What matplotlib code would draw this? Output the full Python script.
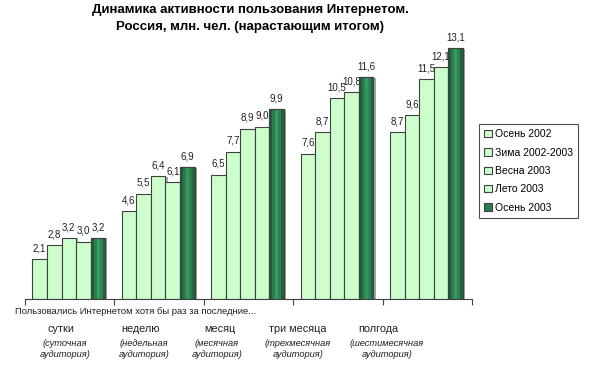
import numpy as np
import matplotlib
matplotlib.use('Agg')
import matplotlib.pyplot as plt
import matplotlib.patheffects as pe
from matplotlib.patches import Patch

plt.rcParams['font.family'] = ['Liberation Sans', 'DejaVu Sans']

# data, mln people
periods = ["сутки", "неделю", "месяц", "три месяца", "полгода"]
audience = ["(суточная\nаудитория)", "(недельная\nаудитория)", "(месячная\nаудитория)",
            "(трехмесячная\nаудитория)", "(шестимесячная\nаудитория)"]
seasons = ["Осень 2002", "Зима 2002-2003", "Весна 2003", "Лето 2003", "Осень 2003"]
autumn_2002 = [2.1, 4.6, 6.5, 7.6, 8.7]
winter_2003 = [2.8, 5.5, 7.7, 8.7, 9.6]
spring_2003 = [3.2, 6.4, 8.9, 10.5, 11.5]
summer_2003 = [3.0, 6.1, 9.0, 10.8, 12.1]
autumn_2003 = [3.2, 6.9, 9.9, 11.6, 13.1]
series = [autumn_2002, winter_2003, spring_2003, summer_2003, autumn_2003]

LIGHT = '#CCFFCC'
DARK = '#2E7D4F'
EDGE = '#404040'

W, H = 590, 367
fig = plt.figure(figsize=(W / 100, H / 100), dpi=100)
ax = fig.add_axes([25 / W, 68 / H, 447 / W, 268 / H])

x = np.arange(len(periods)) + 0.5
width = 0.163
shadow = [pe.SimplePatchShadow(offset=(1.5, -0.5), shadow_rgbFace='#808080', alpha=0.7), pe.Normal()]
green_cmap = matplotlib.colors.LinearSegmentedColormap.from_list('g', ['#1B5E38', '#3A9A62'])

for j, vals in enumerate(series):
    pos = x + (j - 2) * width - 0.01
    last = j == len(series) - 1
    bars = ax.bar(pos, vals, width, color=DARK if last else LIGHT,
                  edgecolor=EDGE, linewidth=0.8, zorder=2)
    for b, v in zip(bars, vals):
        b.set_path_effects(shadow)
        if last:
            # horizontal gradient like the Excel fill
            grad = np.array([[0.0, 0.5, 1.0, 0.6, 0.1]])
            im = ax.imshow(grad, cmap=green_cmap, aspect='auto', zorder=2.5,
                           extent=(b.get_x(), b.get_x() + b.get_width(), 0, v))
            im.set_clip_path(b)
            ax.bar(b.get_x() + b.get_width() / 2, v, b.get_width(), fill=False,
                   edgecolor=EDGE, linewidth=0.8, zorder=3)
        ax.text(b.get_x() + b.get_width() / 2, v + 0.3, f"{v:.1f}".replace('.', ','),
                ha='center', va='bottom', fontsize=7, color='#202020')

ax.set_xlim(0, len(periods))
ax.set_ylim(0, 14)
ax.set_xticks(np.arange(len(periods) + 1))
ax.set_xticklabels([])
ax.tick_params(axis='x', length=4, width=0.8, color='#404040')
ax.set_yticks([])
for s in ['top', 'right', 'left']:
    ax.spines[s].set_visible(False)
ax.spines['bottom'].set_color('#404040')

def px(xp, yp):
    return xp / W, 1 - yp / H

fig.text(*px(250, 10), "Динамика активности пользования Интернетом.", ha='center', va='center',
         fontsize=9.5, fontweight='bold')
fig.text(*px(250, 27), "Россия, млн. чел. (нарастающим итогом)", ha='center', va='center',
         fontsize=9.5, fontweight='bold')
fig.text(*px(15, 312), "Пользовались Интернетом хотя бы раз за последние...", ha='left',
         va='center', fontsize=6.8, color='#202020')

label_x = [61, 140, 220, 298, 378]
aud_x = [65, 144, 217, 298, 387]
for lx, ax_, p, a in zip(label_x, aud_x, periods, audience):
    fig.text(*px(lx, 329), p, ha='center', va='center', fontsize=7.8, color='#202020')
    fig.text(*px(ax_, 349), a, ha='center', va='center', fontsize=6.7, style='italic',
             color='#202020', linespacing=1.2)

handles = [Patch(facecolor=DARK if i == 4 else LIGHT, edgecolor=EDGE, linewidth=0.8)
           for i in range(len(seasons))]
leg = fig.legend(handles, seasons, loc='upper left', bbox_to_anchor=px(479, 124),
                 fontsize=7.5, frameon=True, fancybox=False, edgecolor='#202020',
                 handlelength=0.7, handleheight=0.7, handletextpad=0.3,
                 labelspacing=0.8, borderpad=0.5, borderaxespad=0)
leg.get_frame().set_linewidth(0.8)

fig.savefig('out.png', dpi=100)
